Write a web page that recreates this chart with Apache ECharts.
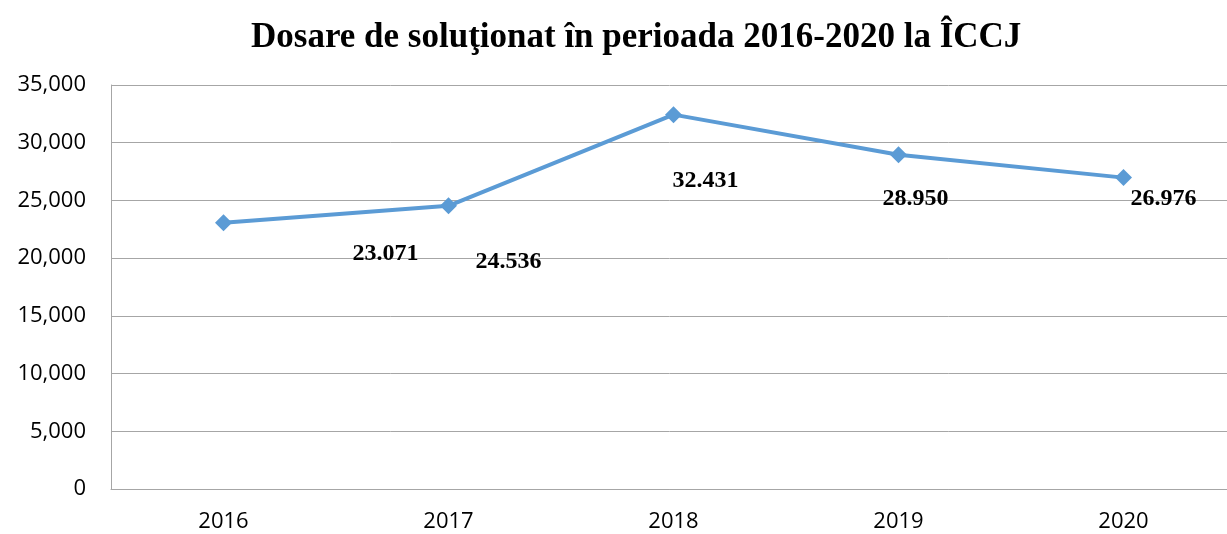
<!DOCTYPE html>
<html>
<head>
<meta charset="utf-8">
<script src="https://cdn.jsdelivr.net/npm/echarts@6/dist/echarts.min.js"></script>
<style>
  html, body { margin: 0; padding: 0; background: #fff; }
  #chart { width: 1227px; height: 534px; }
</style>
</head>
<body>
<div id="chart"></div>
<script>
const years = ['2016', '2017', '2018', '2019', '2020'];
const dosare = [23071, 24536, 32431, 28950, 26976];
const valueLabels = ['23.071', '24.536', '32.431', '28.950', '26.976'];

// unde stau etichetele fata de puncte (ca in Excel)
const labelShift = [[162, 31], [60, 56], [32, 66], [17, 44], [40, 21]];

const chart = echarts.init(document.getElementById('chart'));

chart.setOption({
  animation: false,
  title: {
    text: 'Dosare de soluţionat în perioada 2016-2020 la ÎCCJ',
    left: 246,
    top: 15,
    textStyle: {
      fontFamily: 'Liberation Serif',
      fontWeight: 'bold',
      fontSize: 35,
      color: '#000'
    }
  },
  grid: { left: 111, width: 1125, top: 85, bottom: 45, outerBoundsMode: 'none' },
  xAxis: {
    type: 'category',
    data: years,
    boundaryGap: true,
    axisLine: { lineStyle: { color: '#A6A6A6', width: 1 } },
    axisTick: { show: false },
    axisLabel: { margin: 22, fontFamily: 'Open Sans', fontSize: 22, color: '#000' }
  },
  yAxis: {
    type: 'value',
    min: 0,
    max: 35000,
    interval: 5000,
    axisLine: { show: true, lineStyle: { color: '#A6A6A6', width: 1 } },
    axisTick: { show: false },
    splitLine: { lineStyle: { color: '#A6A6A6', width: 1 } },
    axisLabel: {
      margin: 25,
      fontFamily: 'Open Sans',
      fontSize: 22,
      color: '#000',
      formatter: v => v.toLocaleString('en-US')
    }
  },
  series: [{
    type: 'line',
    data: dosare.map((v, i) => ({
      value: v,
      label: {
        show: true,
        position: 'inside',
        offset: labelShift[i],
        formatter: valueLabels[i]
      }
    })),
    symbol: 'diamond',
    symbolSize: 17,
    lineStyle: { color: '#5B9BD5', width: 4 },
    itemStyle: { color: '#5B9BD5' },
    label: {
      fontFamily: 'Liberation Serif',
      fontWeight: 'bold',
      fontSize: 24,
      color: '#000'
    }
  }]
});
</script>
</body>
</html>
